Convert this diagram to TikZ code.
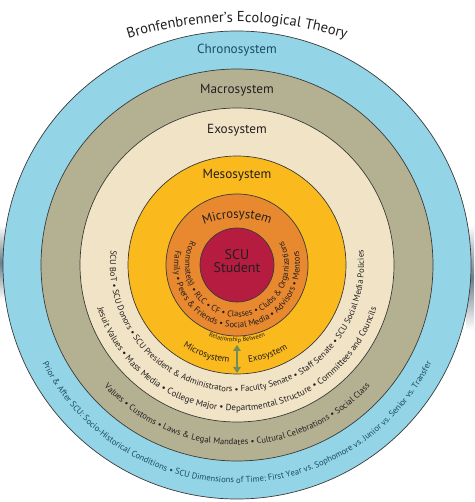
\documentclass[tikz,border=0pt]{standalone}
\usepackage{fontspec}
\setmainfont{PT Sans}
\usetikzlibrary{decorations.text,arrows.meta}
\definecolor{chrono}{HTML}{93D4E6}
\definecolor{macro}{HTML}{B4B193}
\definecolor{exo}{HTML}{F1E4C6}
\definecolor{meso}{HTML}{FAB91C}
\definecolor{micro}{HTML}{E8882F}
\definecolor{stud}{HTML}{B51C40}
\definecolor{ringline}{HTML}{3A3A3A}
\definecolor{chronotext}{HTML}{1D4B66}
\definecolor{darktext}{HTML}{231F20}
\definecolor{arrowgreen}{HTML}{6F8C5C}
\definecolor{sideshade}{HTML}{6A7E8C}
\newcommand\fs[1]{\fontsize{#1}{#1}\selectfont}
% radius, start angle, end angle, format, text
\newcommand\ringtext[5]{%
  \path[decorate,decoration={text along path,text align=center,text={|#4|#5}}]
    (#2:#1pt) arc[start angle=#2,end angle=#3,radius=#1pt];}
\tikzset{
  ring/.style={draw=ringline,line width=0.7pt},
  biglabel/.style={font=\fs{13.2},text=darktext,inner sep=0pt},
}
\begin{document}
\begin{tikzpicture}[x=1pt,y=1pt]
\useasboundingbox (-237,-237) rectangle (237,265);
% side shading
\shade[top color=white,bottom color=white,middle color=sideshade] (-237,40) rectangle (-232,-35);
\shade[top color=white,bottom color=white,middle color=sideshade] (229,40) rectangle (237,-65);
% rings
\filldraw[ring,fill=chrono] (0,0) circle[radius=234pt];
\filldraw[ring,fill=macro] (0,0) circle[radius=196pt];
\filldraw[ring,fill=exo] (0,0) circle[radius=157pt];
\filldraw[ring,fill=meso] (0,0) circle[radius=109pt];
\filldraw[ring,fill=micro] (0,0) circle[radius=71pt];
\filldraw[ring,fill=stud] (0,0) circle[radius=37pt];
% title
\path[decorate,decoration={text along path,text align=center,
  text={|\fs{14.5}\color{darktext}|Bronfenbrenner’s Ecological Theory}}]
  ([shift={(0,-117)}]125:360pt) arc[start angle=125,end angle=55,radius=360pt];
% system labels
\node[biglabel,text=chronotext] (chronolabel) at (0,215) {Chronosystem};
\node[biglabel] (macrolabel) at (0,175) {Macrosystem};
\node[biglabel] (exolabel) at (0,135) {Exosystem};
\node[biglabel] (mesolabel) at (0,90) {Mesosystem};
\path[decorate,decoration={text along path,text align=center,
  text={|\fs{12.7}\color{darktext}|Microsystem}}]
  ([shift={(0,-43)}]140:90pt) arc[start angle=140,end angle=40,radius=90pt];
\node[font=\fs{14},text=darktext,align=center,inner sep=0pt] (student) at (0,4) {SCU\\[-1pt]Student};
% ring texts
\ringtext{218}{140}{400}{\fs{8.6}\color{chronotext}}{Prior {\&} After SCU: Socio-Historical Conditions • SCU Dimensions of Time: First Year vs. Sophomore vs. Junior vs. Senior vs. Transfer}
\ringtext{180}{140}{400}{\fs{8.6}\color{darktext}}{Values • Customs • Laws {\&} Legal Mandates • Cultural Celebrations • Social Class}
\ringtext{146}{140}{400}{\fs{9}\color{darktext}}{Jesuit Values • Mass Media • College Major • Departmental Structure • Committees and Councils}
\ringtext{127}{100}{440}{\fs{8.6}\color{darktext}}{SCU BoT • SCU Donors • SCU President {\&} Administrators • Faculty Senate • Staff Senate • SCU Social Media Policies}
\ringtext{63}{100}{440}{\fs{8.7}\color{darktext}}{Family • Peers {\&} Friends • Social Media • Advisors • Mentors}
\ringtext{52}{90}{450}{\fs{8.5}\color{darktext}}{Roommate(s) • RLC • CF • Classes • Clubs {\&} Organizations}
% mesosystem relationship
\ringtext{77}{230}{310}{\fs{6.2}\color{darktext}}{Relationship Between}
\ringtext{98}{211}{291}{\fs{9.2}\color{darktext}}{Microsystem}
\ringtext{98}{249}{329}{\fs{9.2}\color{darktext}}{Exosystem}
\coordinate (arrowtop) at (0,-80);
\coordinate (arrowbottom) at (0,-108);
\draw[arrowgreen,line width=2.6pt,{Triangle[width=7.5pt,length=6pt]}-{Triangle[width=7.5pt,length=6pt]}] (arrowtop) -- (arrowbottom);
\end{tikzpicture}
\end{document}
